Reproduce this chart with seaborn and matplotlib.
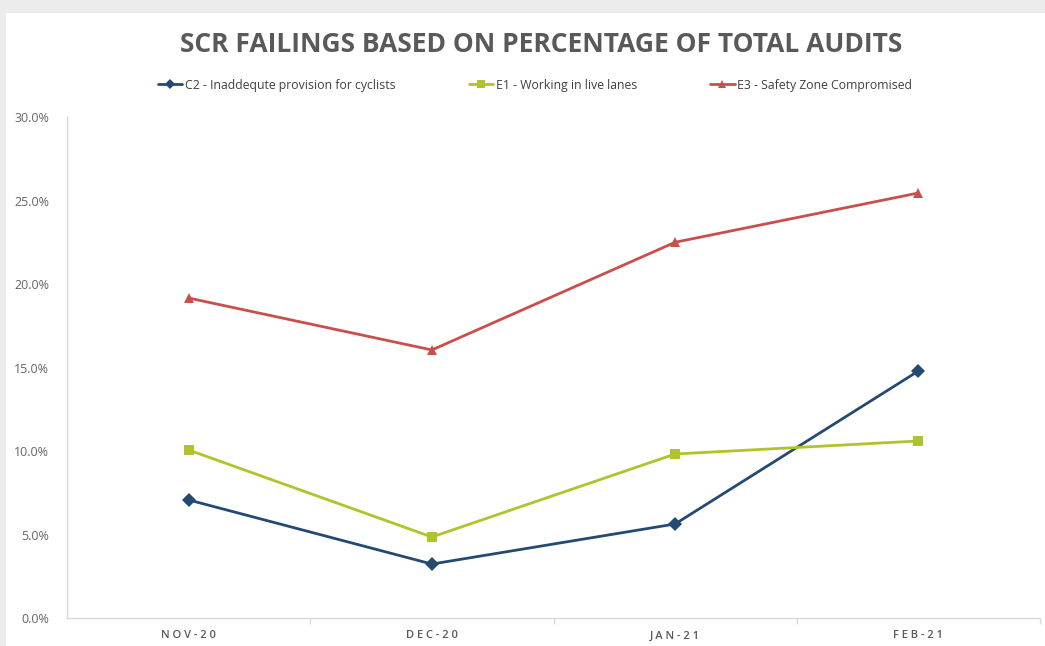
import matplotlib
matplotlib.use("Agg")
import matplotlib.pyplot as plt
from matplotlib.patches import Rectangle
from matplotlib.ticker import FuncFormatter, FixedLocator, NullFormatter
import seaborn as sns
import pandas as pd

months = ["NOV-20", "DEC-20", "JAN-21", "FEB-21"]
series_names = [
    "C2 - Inaddequte provision for cyclists",
    "E1 - Working in live lanes",
    "E3 - Safety Zone Compromised",
]
c2_values = [0.0707, 0.0323, 0.0563, 0.1479]
e1_values = [0.1006, 0.0485, 0.0982, 0.1060]
e3_values = [0.1916, 0.1605, 0.2250, 0.2545]

colors = ["#244A73", "#B2C22C", "#C8504B"]
markers = ["D", "s", "^"]

rows = []
for name, vals in zip(series_names, [c2_values, e1_values, e3_values]):
    for i, (m, v) in enumerate(zip(months, vals)):
        rows.append({"pos": i, "month": m, "series": name, "value": v})
df = pd.DataFrame(rows)

sns.set_theme(style="white")
plt.rcParams["font.family"] = ["Open Sans", "DejaVu Sans"]

fig = plt.figure(figsize=(10.45, 6.46), dpi=100)
fig.patch.set_facecolor("#ececec")
fig.patches.append(Rectangle((6 / 1045, 0), 1 - 6 / 1045, 1 - 13 / 646,
                             transform=fig.transFigure, facecolor="white",
                             edgecolor="none", zorder=-5))

ax = fig.add_axes([67 / 1045, 28 / 646, (1040 - 67) / 1045, (618 - 117) / 646])
ax.set_facecolor("none")
ax.set_zorder(2)

sns.lineplot(data=df, x="pos", y="value", hue="series", style="series",
             hue_order=series_names, style_order=series_names,
             palette=colors, markers=markers, dashes=False, linewidth=2,
             markersize=7.5, markeredgewidth=0, ax=ax, legend=True)

ax.set_xlim(-0.5, 3.5)
ax.set_ylim(0, 0.30)
ax.set_yticks([0, 0.05, 0.10, 0.15, 0.20, 0.25, 0.30])
ax.yaxis.set_major_formatter(FuncFormatter(lambda v, _: f"{v * 100:.1f}%"))
ax.set_xticks(range(len(months)))
ax.set_xticklabels([" ".join(m) for m in months])
ax.xaxis.set_minor_locator(FixedLocator([0.5, 1.5, 2.5, 3.5]))
ax.xaxis.set_minor_formatter(NullFormatter())
ax.tick_params(axis="x", which="major", length=0, pad=9,
               labelsize=8, labelcolor="#595959")
ax.tick_params(axis="x", which="minor", length=4, color="#d9d9d9",
               direction="out", bottom=True)
ax.tick_params(axis="y", length=0, pad=13, labelsize=9, labelcolor="#666666")
for lbl in ax.get_xticklabels():
    lbl.set_fontweight("semibold")
ax.set_xlabel("")
ax.set_ylabel("")
ax.grid(False)
for side in ["top", "right"]:
    ax.spines[side].set_visible(False)
for side in ["left", "bottom"]:
    ax.spines[side].set_color("#d9d9d9")
    ax.spines[side].set_linewidth(1)

handles, labels = ax.get_legend_handles_labels()
for h in handles:
    h.set_markersize(5.5)
    h.set_linewidth(2)
ax.legend_.remove()
fig.legend(handles, labels, loc="center", bbox_to_anchor=(0.512, 1 - 85 / 646),
           ncol=3, frameon=False, fontsize=8.8, handlelength=2.0,
           columnspacing=6.0, handletextpad=0.2, labelcolor="#404040")

fig.text(0.518, 1 - 45 / 646, "SCR FAILINGS BASED ON PERCENTAGE OF TOTAL AUDITS",
         ha="center", va="center", fontsize=19, fontweight="bold",
         color="#595959")

fig.savefig("out.png", dpi=100)
